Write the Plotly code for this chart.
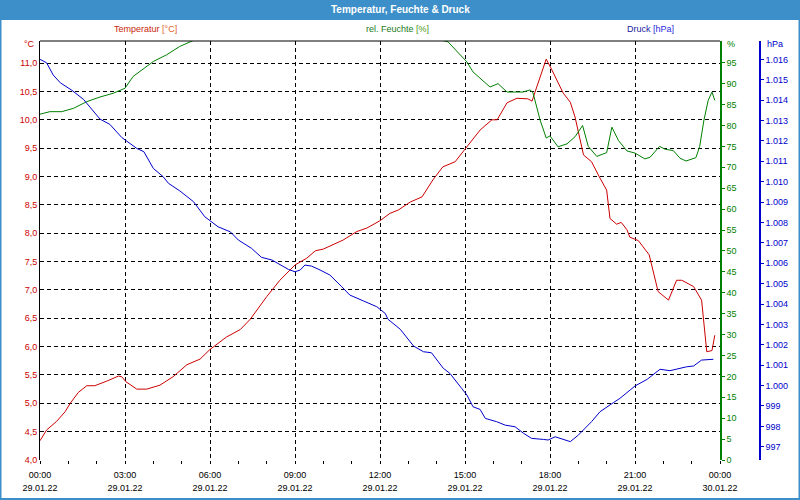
import pandas as pd
import plotly.graph_objects as go

DAY = "2022-01-29"
X_START = "2022-01-29 00:00"
X_END = "2022-01-30 00:00"

# Temperatur [°C]
temp_times = ["00:00", "00:14", "00:35", "00:53", "01:04", "01:21", "01:39", "01:56", "02:21", "02:46",
              "02:53", "03:02", "03:25", "03:46", "04:14", "04:42", "05:11", "05:39", "06:00", "06:35",
              "07:04", "07:25", "08:00", "08:28", "09:00", "09:25", "09:43", "10:00", "10:42", "11:11",
              "11:32", "12:00", "12:21", "12:39", "13:04", "13:29", "13:52", "14:13", "14:39", "15:04",
              "15:32", "15:57", "16:08", "16:29", "16:50", "17:13", "17:22", "17:32", "17:52", "18:04",
              "18:28", "18:43", "18:53", "19:11", "19:28", "19:46", "20:00", "20:07", "20:21", "20:31",
              "20:43", "20:49", "21:07", "21:30", "21:49", "22:11", "22:28", "22:39", "23:04", "23:21",
              "23:32", "23:43", "23:49"]
temp_values = [4.34, 4.53, 4.68, 4.85, 5.00, 5.19, 5.31, 5.31, 5.39, 5.48,
               5.47, 5.38, 5.25, 5.25, 5.32, 5.47, 5.68, 5.78, 5.95, 6.17,
               6.30, 6.48, 6.88, 7.17, 7.44, 7.56, 7.69, 7.72, 7.88, 8.03,
               8.09, 8.22, 8.35, 8.41, 8.55, 8.64, 8.94, 9.17, 9.26, 9.52,
               9.82, 10.00, 10.00, 10.30, 10.38, 10.37, 10.33, 10.58, 11.07, 10.88,
               10.47, 10.31, 10.05, 9.38, 9.26, 8.97, 8.76, 8.26, 8.16, 8.19,
               8.06, 7.93, 7.87, 7.62, 6.97, 6.82, 7.17, 7.17, 7.06, 6.82,
               5.91, 5.93, 6.20]

# rel. Feuchte [%]
hum_times = ["00:00", "00:21", "00:46", "01:11", "01:39", "02:07", "02:35", "03:00", "03:17", "03:32",
             "04:00", "04:28", "04:56", "05:28", "06:00", "08:00", "10:00", "12:00", "13:30", "14:24",
             "15:04", "15:17", "15:53", "16:10", "16:29", "17:03", "17:18", "17:24", "17:39", "17:52",
             "18:00", "18:17", "18:36", "18:53", "19:09", "19:21", "19:39", "20:00", "20:11", "20:25",
             "20:43", "21:00", "21:21", "21:32", "21:52", "22:04", "22:21", "22:35", "22:48", "23:09",
             "23:17", "23:26", "23:35", "23:43", "23:49"]
hum_values = [82.7, 83.3, 83.3, 84.1, 85.7, 86.8, 87.7, 88.9, 91.7, 92.9,
              95.3, 96.9, 98.9, 100.5, 101.0, 102.0, 102.5, 102.0, 101.5, 100.0,
              95.2, 92.8, 89.2, 90.0, 88.0, 88.0, 88.5, 87.8, 81.3, 77.0,
              77.5, 74.9, 75.6, 77.3, 80.0, 75.0, 72.6, 73.5, 79.6, 76.4,
              73.9, 73.4, 72.0, 72.4, 75.0, 74.3, 74.0, 72.2, 71.5, 72.3,
              75.0, 81.3, 86.0, 88.0, 86.0]

# Druck [hPa]
pres_times = ["00:00", "00:14", "00:28", "00:43", "01:07", "01:32", "02:07", "02:28", "02:53", "03:25",
              "03:40", "04:00", "04:21", "04:32", "04:56", "05:25", "05:49", "06:17", "06:43", "07:00",
              "07:28", "07:49", "08:11", "08:46", "09:00", "09:11", "09:21", "09:35", "09:53", "10:14",
              "10:39", "10:56", "11:25", "11:53", "12:11", "12:17", "12:43", "13:11", "13:32", "13:49",
              "14:14", "14:28", "14:53", "15:04", "15:17", "15:32", "15:43", "16:07", "16:25", "16:46",
              "17:04", "17:21", "17:46", "17:56", "18:11", "18:35", "18:43", "19:00", "19:14", "19:28",
              "19:46", "20:00", "20:14", "20:28", "21:00", "21:26", "21:53", "22:14", "22:32", "22:49",
              "23:04", "23:21", "23:46"]
pres_values = [1016.00, 1015.83, 1015.23, 1014.85, 1014.49, 1014.04, 1013.07, 1012.81, 1012.17, 1011.63,
               1011.47, 1010.65, 1010.24, 1009.92, 1009.55, 1009.02, 1008.28, 1007.79, 1007.54, 1007.14,
               1006.73, 1006.29, 1006.16, 1005.70, 1005.58, 1005.67, 1005.91, 1005.86, 1005.67, 1005.42,
               1004.85, 1004.44, 1004.15, 1003.87, 1003.54, 1003.25, 1002.76, 1001.94, 1001.66, 1001.61,
               1000.85, 1000.60, 999.86, 999.54, 998.96, 998.83, 998.39, 998.23, 998.06, 997.98,
               997.66, 997.41, 997.36, 997.33, 997.49, 997.29, 997.25, 997.57, 997.90, 998.23,
               998.72, 998.96, 999.16, 999.37, 999.98, 1000.31, 1000.80, 1000.73, 1000.84, 1000.92,
               1000.96, 1001.25, 1001.29]

TITLE = "Temperatur, Feuchte & Druck"
RED, GREEN, BLUE = "#cc0000", "#008000", "#0000cc"
FONT = "Liberation Sans, Arial, sans-serif"
BAR = "#3c8fc8"


def to_dt(times):
    return pd.to_datetime([f"{DAY} {t}" for t in times])


fig = go.Figure()
fig.add_trace(go.Scatter(x=to_dt(temp_times), y=temp_values, mode="lines",
                         line=dict(color=RED, width=1), xaxis="x", yaxis="y",
                         name="Temperatur [°C]", hoverinfo="x+y"))
fig.add_trace(go.Scatter(x=to_dt(hum_times), y=hum_values, mode="lines",
                         line=dict(color=GREEN, width=1), xaxis="x", yaxis="y2",
                         name="rel. Feuchte [%]", hoverinfo="x+y"))
fig.add_trace(go.Scatter(x=to_dt(pres_times), y=pres_values, mode="lines",
                         line=dict(color=BLUE, width=1), xaxis="x", yaxis="y3",
                         name="Druck [hPa]", hoverinfo="x+y"))
# carrier trace for the date-label axis
fig.add_trace(go.Scatter(x=to_dt(temp_times), y=temp_values, mode="lines",
                         line=dict(width=0), opacity=0, xaxis="x2", yaxis="y",
                         hoverinfo="skip", showlegend=False))

W, H = 800, 500
ML, MR, MT, MB = 40, 40, 41, 40
PW, PH = W - ML - MR, H - MT - MB


def px(x):
    return (x - ML) / PW


def py(y):
    return (H - MB - y) / PH


grid = dict(showgrid=True, gridcolor="black", gridwidth=1, griddash="4px,3px")

fig.update_layout(
    width=W, height=H, autosize=False,
    margin=dict(l=ML, r=MR, t=MT, b=MB, pad=0, autoexpand=False),
    paper_bgcolor="white", plot_bgcolor="white",
    separators=",.",
    showlegend=False,
    font=dict(family=FONT, size=9, color="black"),
    xaxis=dict(domain=[0, 680 / PW], range=[X_START, X_END], type="date",
               tick0=X_START, dtick=3 * 3600000, tickformat="%H:%M",
               ticks="outside", ticklen=3, tickcolor="black",
               minor=dict(dtick=3600000, ticks="outside", ticklen=3, tickcolor="black", showgrid=False),
               showline=False, zeroline=False, anchor="y", ticklabelstandoff=3, automargin=False,
               tickfont=dict(size=9, color="black"), **grid),
    xaxis2=dict(matches="x", overlaying="x", side="bottom", anchor="y", type="date",
                tick0=X_START, dtick=3 * 3600000, tickformat="%d.%m.%y",
                ticks="", showgrid=False, showline=False, zeroline=False, automargin=False,
                ticklabelstandoff=21, tickfont=dict(size=9, color="black")),
    yaxis=dict(range=[4, 11.39], tick0=4, dtick=0.5, tickformat=".1f",
               tickfont=dict(size=9, color=RED), ticks="", automargin=False,
               showline=True, linecolor="black", linewidth=1, zeroline=False,
               anchor="x", **grid),
    yaxis2=dict(overlaying="y", side="right", anchor="x", range=[0, 100.2],
                tickvals=list(range(0, 100, 5)), tickfont=dict(size=9, color=GREEN),
                ticks="outside", ticklen=3, tickcolor=GREEN, automargin=False,
                showline=True, linecolor=GREEN, linewidth=1.5,
                showgrid=False, zeroline=False),
    yaxis3=dict(overlaying="y", side="right", anchor="free", position=1.0,
                range=[996.35, 1016.9], tick0=997, dtick=1, tickformat=",d",
                tickfont=dict(size=9, color=BLUE), automargin=False,
                ticks="outside", ticklen=3, tickcolor=BLUE,
                showline=True, linecolor=BLUE, linewidth=1.5,
                showgrid=False, zeroline=False),
)

shapes = [
    # title bar
    dict(type="rect", xref="paper", yref="paper", x0=px(0), x1=px(W), y0=py(20), y1=py(0),
         fillcolor=BAR, line=dict(width=0), layer="below"),
    # outer frame
    dict(type="rect", xref="paper", yref="paper", x0=px(0.5), x1=px(W - 0.5), y0=py(H - 1), y1=py(0.5),
         line=dict(color=BAR, width=2), fillcolor="rgba(0,0,0,0)"),
    # top frame of plot
    dict(type="line", xref="paper", yref="paper", x0=0, x1=680 / PW, y0=1, y1=1,
         line=dict(color="black", width=1)),
]
fig.update_layout(shapes=shapes)

ann = [
    dict(text=f"<b>{TITLE}</b>", x=0.5 * (px(0) + px(W)), y=py(10), font=dict(size=10, color="white"),
         xanchor="center", yanchor="middle"),
    dict(text=f'<span style="color:#c81e0a">Temperatur</span> <span style="color:#e0602a">[°C]</span>',
         x=px(145), y=py(29), xanchor="center", yanchor="middle", font=dict(size=9)),
    dict(text=f'<span style="color:#1a7a1a">rel. Feuchte</span> <span style="color:#4a9a1a">[%]</span>',
         x=px(397), y=py(29), xanchor="center", yanchor="middle", font=dict(size=9)),
    dict(text=f'<span style="color:#1a1aa0">Druck</span> <span style="color:#2a2ae0">[hPa]</span>',
         x=px(650), y=py(29), xanchor="center", yanchor="middle", font=dict(size=9)),
    dict(text="°C", x=px(37), y=py(44), xanchor="right", yanchor="middle", font=dict(size=9, color=RED)),
    dict(text="%", x=px(725), y=py(44), xanchor="left", yanchor="middle", font=dict(size=9, color=GREEN)),
    dict(text="hPa", x=px(765), y=py(44), xanchor="left", yanchor="middle", font=dict(size=9, color=BLUE)),
]
for a in ann:
    a.update(xref="paper", yref="paper", showarrow=False)
fig.update_layout(annotations=ann)

fig.write_html("out.html")
